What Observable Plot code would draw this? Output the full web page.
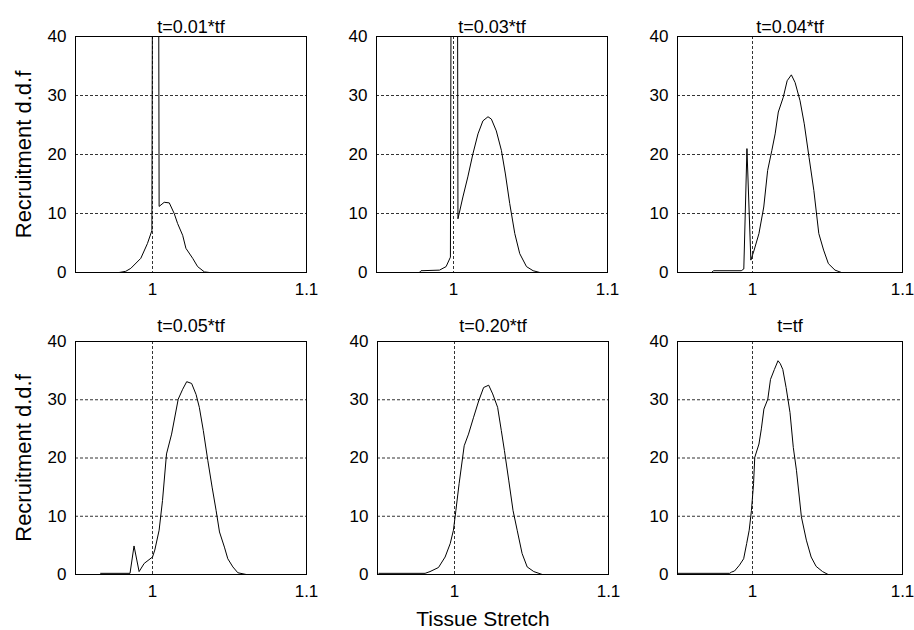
<!DOCTYPE html>
<html>
<head>
<meta charset="utf-8">
<script src="https://cdn.jsdelivr.net/npm/d3@7"></script>
<script src="https://cdn.jsdelivr.net/npm/@observablehq/plot@0.6"></script>
<style>
  body { margin: 0; background: #fff; }
  #chart { position: relative; width: 914px; height: 630px; background: #fff; overflow: hidden; }
  #chart svg { position: absolute; overflow: visible; }
</style>
</head>
<body>
<div id="chart"></div>
<script>
// ---- data ----
const panelTitles = ["t=0.01*tf", "t=0.03*tf", "t=0.04*tf", "t=0.05*tf", "t=0.20*tf", "t=tf"];

const stretch1 = [0.9783, 0.9826, 0.9859, 0.9924, 0.9967, 0.9996, 1.0021, 1.0043, 1.0076, 1.0109, 1.0141, 1.0163, 1.0196, 1.0217, 1.0261, 1.0293, 1.0337, 1.0370];
const ddf1     = [0, 0.2, 0.7, 2.4, 4.9, 7.1, 300, 11.2, 11.9, 11.8, 10.0, 8.3, 6.3, 4.1, 2.4, 1.0, 0.1, 0];

const stretch2 = [0.9778, 0.9789, 0.9909, 0.9952, 0.9980, 1.0008, 1.0029, 1.0061, 1.0093, 1.0126, 1.0159, 1.0191, 1.0224, 1.0246, 1.0278, 1.0311, 1.0337, 1.0365, 1.0398, 1.0430, 1.0474, 1.0517, 1.0561];
const ddf2     = [0, 0.3, 0.4, 1.0, 2.6, 300, 9.1, 12.8, 16.2, 20.1, 23.5, 25.7, 26.4, 26.0, 24.0, 20.7, 16.7, 11.7, 6.6, 3.2, 1.0, 0.3, 0];

const stretch3 = [0.9731, 0.9741, 0.9925, 0.9942, 0.9963, 0.9989, 1.0011, 1.0043, 1.0075, 1.0101, 1.0129, 1.0151, 1.0172, 1.0205, 1.0231, 1.0259, 1.0284, 1.0317, 1.0345, 1.0377, 1.0409, 1.0442, 1.0474, 1.0506, 1.0550, 1.0593];
const ddf3     = [0.1, 0.3, 0.3, 0.6, 21.0, 2.1, 3.8, 6.6, 11.1, 17.3, 20.7, 23.5, 27.2, 29.7, 32.5, 33.5, 32.2, 29.1, 25.2, 19.5, 13.9, 6.6, 3.8, 1.5, 0.4, 0];

const stretch4 = [0.9663, 0.9854, 0.9880, 0.9913, 0.9946, 1.0000, 1.0015, 1.0043, 1.0065, 1.0091, 1.0124, 1.0167, 1.0196, 1.0222, 1.0254, 1.0283, 1.0304, 1.0330, 1.0359, 1.0387, 1.0413, 1.0435, 1.0467, 1.0489, 1.0522, 1.0554, 1.0609];
const ddf4     = [0.2, 0.2, 4.9, 0.5, 1.9, 3.0, 4.2, 7.6, 12.7, 20.7, 24.1, 30.1, 31.8, 33.1, 32.8, 30.9, 28.7, 24.7, 19.6, 15.0, 11.0, 7.3, 4.7, 2.7, 1.3, 0.3, 0];

const stretch5 = [0.9509, 0.9809, 0.9841, 0.9896, 0.9939, 0.9972, 0.9993, 1.0009, 1.0030, 1.0063, 1.0091, 1.0124, 1.0157, 1.0189, 1.0222, 1.0248, 1.0280, 1.0304, 1.0324, 1.0352, 1.0380, 1.0407, 1.0439, 1.0472, 1.0515, 1.0570];
const ddf5     = [0.2, 0.2, 0.5, 1.2, 3.0, 5.3, 7.6, 11.0, 15.6, 22.1, 24.1, 27.0, 29.8, 32.1, 32.5, 31.0, 28.7, 24.7, 21.3, 16.2, 11.0, 7.6, 3.6, 1.3, 0.5, 0];

const stretch6 = [0.9500, 0.9848, 0.9859, 0.9880, 0.9913, 0.9941, 0.9961, 0.9978, 0.9993, 1.0007, 1.0015, 1.0043, 1.0059, 1.0076, 1.0102, 1.0120, 1.0146, 1.0170, 1.0185, 1.0202, 1.0224, 1.0250, 1.0272, 1.0293, 1.0326, 1.0359, 1.0391, 1.0424, 1.0467, 1.0504];
const ddf6     = [0.2, 0.2, 0.4, 0.6, 1.6, 2.7, 5.3, 7.6, 11.0, 15.6, 20.1, 22.4, 25.0, 28.4, 30.1, 33.5, 35.2, 36.7, 36.2, 35.2, 32.1, 27.8, 21.8, 17.9, 9.9, 5.9, 3.0, 1.4, 0.5, 0];

const xDomain = [0.95, 1.1];
const yDomain = [0, 40];
const xTicks = [1, 1.1];
const yTicks = [0, 10, 20, 30, 40];
const xGrid = [1];
const yGrid = [10, 20, 30];
const yLabel = "Recruitment d.d.f";
const xLabel = "Tissue Stretch";

// ---- layout (frame positions in the page) ----
const stretches = [stretch1, stretch2, stretch3, stretch4, stretch5, stretch6];
const ddfs = [ddf1, ddf2, ddf3, ddf4, ddf5, ddf6];
const frames = [
  {left: 75,  top: 36,  w: 231, h: 236, titleDy: -4},
  {left: 376, top: 36,  w: 231, h: 236, titleDy: -4},
  {left: 677, top: 36,  w: 225, h: 236, titleDy: -4},
  {left: 75,  top: 341, w: 231, h: 233, titleDy: -10},
  {left: 377, top: 341, w: 231, h: 233, titleDy: -10},
  {left: 677, top: 341, w: 225, h: 233, titleDy: -10}
];

const FONT = "'Liberation Sans', Arial, Helvetica, sans-serif";
const container = document.getElementById("chart");

frames.forEach((f, i) => {
  const col = i % 3, row = Math.floor(i / 3);
  const ml = col === 0 ? 75 : 45, mr = 20, mt = 34, mb = 60;
  const data = stretches[i].map((x, j) => ({x, y: ddfs[i][j]}));
  const marks = [
    Plot.ruleY(yGrid, {stroke: "#333", strokeWidth: 1, strokeDasharray: "3,2"}),
    Plot.ruleX(xGrid, {stroke: "#333", strokeWidth: 1, strokeDasharray: "3,2"}),
    Plot.line(data, {x: "x", y: "y", stroke: "#000", strokeWidth: 1, clip: true}),
    Plot.frame({stroke: "#000", strokeWidth: 1}),
    Plot.text([panelTitles[i]], {text: d => d, frameAnchor: "top", lineAnchor: "bottom", dy: f.titleDy, fontSize: 18, fill: "#000"})
  ];
  if (col === 0) {
    marks.push(Plot.text([yLabel], {text: d => d, frameAnchor: "left", textAnchor: "middle", rotate: -90, dx: -52, lineAnchor: "middle", fontSize: 22, fill: "#000"}));
  }
  if (row === 1 && col === 1) {
    marks.push(Plot.text([xLabel], {text: d => d, frameAnchor: "bottom", textAnchor: "middle", dy: 45, dx: -10, lineAnchor: "middle", fontSize: 21, fill: "#000"}));
  }
  const svg = Plot.plot({
    width: ml + f.w + mr,
    height: mt + f.h + mb,
    marginLeft: ml, marginRight: mr, marginTop: mt, marginBottom: mb,
    style: {fontFamily: FONT, fontSize: "17px", color: "#000", background: "transparent", overflow: "visible"},
    x: {domain: xDomain, ticks: xTicks, tickSize: 0, tickPadding: 10, tickFormat: d => String(d), label: null},
    y: {domain: yDomain, ticks: yTicks, tickSize: 0, tickPadding: 9, label: null},
    marks
  });
  svg.style.left = (f.left - ml) + "px";
  svg.style.top = (f.top - mt) + "px";
  container.appendChild(svg);
});
</script>
</body>
</html>
